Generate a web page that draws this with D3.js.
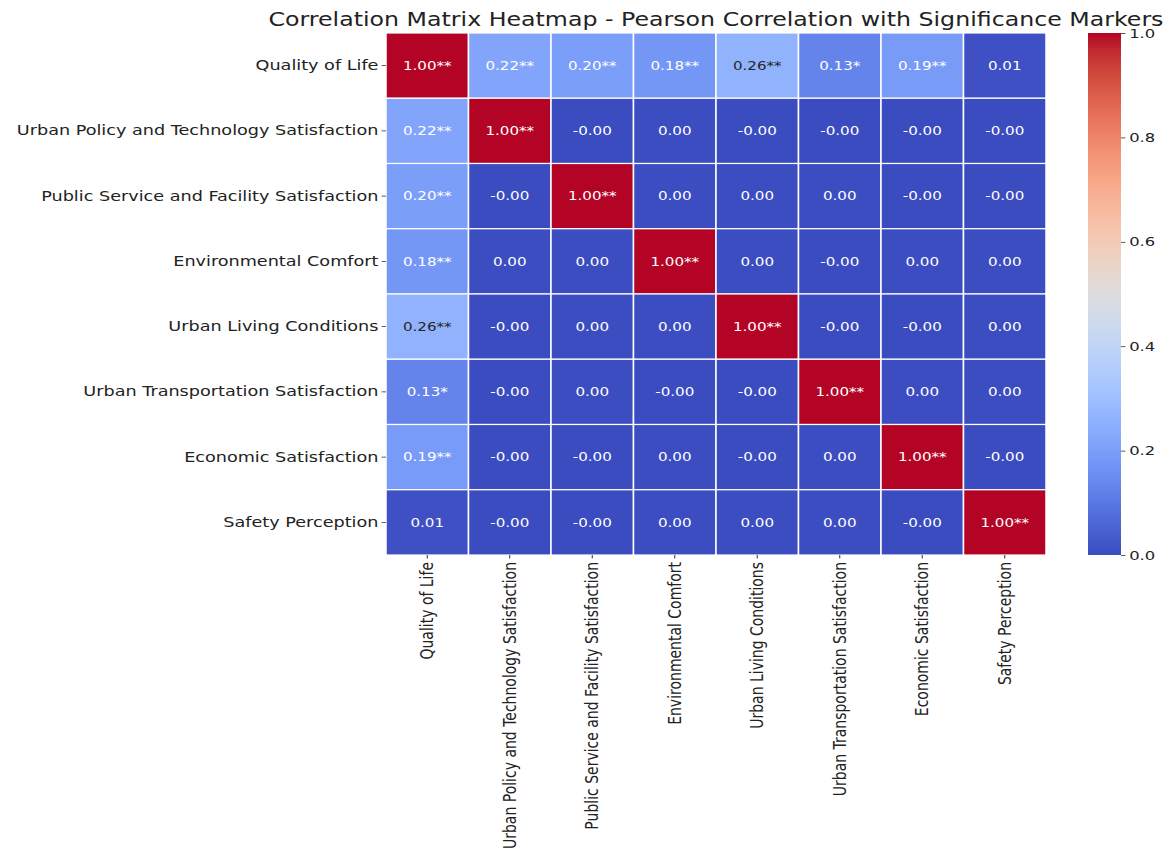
<!DOCTYPE html>
<html>
<head>
<meta charset="utf-8">
<script src="https://cdn.jsdelivr.net/npm/d3@7"></script>
<style>
  body { margin: 0; background: #fff; }
  text { font-family: "DejaVu Sans", sans-serif; }
</style>
</head>
<body>
<svg width="1171" height="848"></svg>
<script>
var variables = [
    "Quality of Life",
    "Urban Policy and Technology Satisfaction",
    "Public Service and Facility Satisfaction",
    "Environmental Comfort",
    "Urban Living Conditions",
    "Urban Transportation Satisfaction",
    "Economic Satisfaction",
    "Safety Perception"
];

// correlation values, row by row
var rowQuality   = [1.00, 0.22, 0.20, 0.18, 0.26, 0.13, 0.19, 0.01];
var rowPolicy    = [0.22, 1.00, -0.002, 0.002, -0.002, -0.002, -0.002, -0.002];
var rowService   = [0.20, -0.002, 1.00, 0.002, 0.002, 0.002, -0.002, -0.002];
var rowEnv       = [0.18, 0.002, 0.002, 1.00, 0.002, -0.002, 0.002, 0.002];
var rowLiving    = [0.26, -0.002, 0.002, 0.002, 1.00, -0.002, -0.002, 0.002];
var rowTransport = [0.13, -0.002, 0.002, -0.002, -0.002, 1.00, 0.002, 0.002];
var rowEconomic  = [0.19, -0.002, -0.002, 0.002, -0.002, 0.002, 1.00, -0.002];
var rowSafety    = [0.01, -0.002, -0.002, 0.002, 0.002, 0.002, -0.002, 1.00];

// significance markers for each cell
var starsQuality = ["**", "**", "**", "**", "**", "*", "**", ""];
var starsDiag    = "**";

var colorbarTicks = [0.0, 0.2, 0.4, 0.6, 0.8, 1.0];

var corr = [rowQuality, rowPolicy, rowService, rowEnv, rowLiving, rowTransport, rowEconomic, rowSafety];

// coolwarm colormap stops (Moreland)
var coolwarm = [
    [59,76,192],[68,90,204],[77,104,215],[87,117,225],[98,130,234],[108,142,241],
    [119,154,247],[130,165,251],[141,176,254],[152,185,255],[163,194,255],[174,201,253],
    [184,208,249],[194,213,244],[204,217,238],[213,219,230],[221,221,221],[229,216,209],
    [236,211,197],[241,204,185],[245,196,173],[247,187,160],[247,177,148],[247,166,135],
    [244,154,123],[241,141,111],[236,127,99],[229,112,88],[222,96,77],[213,80,66],
    [203,62,56],[192,40,47],[180,4,38]
].map(function(c) { return d3.rgb(c[0], c[1], c[2]).toString(); });

var cmap = d3.scaleLinear()
    .domain(d3.range(coolwarm.length).map(function(i) { return i / (coolwarm.length - 1); }))
    .range(coolwarm)
    .interpolate(d3.interpolateRgb)
    .clamp(true);

var color = d3.scaleLinear().domain([0, 1]).range([0, 1]).clamp(true);

function fill(v) { return cmap(color(v)); }

function textColor(c) {
    var rgb = d3.rgb(c);
    var lin = [rgb.r, rgb.g, rgb.b].map(function(x) {
        x = x / 255;
        return x <= 0.03928 ? x / 12.92 : Math.pow((x + 0.055) / 1.055, 2.4);
    });
    var lum = 0.2126 * lin[0] + 0.7152 * lin[1] + 0.0722 * lin[2];
    return lum > 0.408 ? "#262626" : "#ffffff";
}

function marker(i, j) {
    if (i === j) return starsDiag;
    if (i === 0) return starsQuality[j];
    if (j === 0) return starsQuality[i];
    return "";
}

// the reference is stretched horizontally, so draw in a scaled group
var sx = 1.26;
var svg = d3.select("svg");
svg.append("rect").attr("width", 1171).attr("height", 848).attr("fill", "#fff");

var g = svg.append("g").attr("transform", "scale(" + sx + ",1)");

var hmLeft = 386 / sx, hmRight = 1046 / sx, hmTop = 33, hmBottom = 555;

var x = d3.scaleBand().domain(variables).range([hmLeft, hmRight]);
var y = d3.scaleBand().domain(variables).range([hmTop, hmBottom]);

var cells = [];
corr.forEach(function(row, i) {
    row.forEach(function(v, j) {
        cells.push({ row: variables[i], col: variables[j], v: v, stars: marker(i, j) });
    });
});

g.append("g").selectAll("rect")
    .data(cells)
  .enter().append("rect")
    .attr("x", function(d) { return x(d.col); })
    .attr("y", function(d) { return y(d.row); })
    .attr("width", x.bandwidth())
    .attr("height", y.bandwidth())
    .attr("fill", function(d) { return fill(d.v); })
    .attr("stroke", "#fff")
    .attr("stroke-width", 1.2);

g.append("g").selectAll("text")
    .data(cells)
  .enter().append("text")
    .attr("x", function(d) { return x(d.col) + x.bandwidth() / 2; })
    .attr("y", function(d) { return y(d.row) + y.bandwidth() / 2; })
    .attr("dy", "0.35em")
    .attr("text-anchor", "middle")
    .attr("font-size", 12)
    .attr("fill", function(d) { return textColor(fill(d.v)); })
    .text(function(d) { return d.v.toFixed(2) + d.stars; });

// y axis
var yAxis = g.append("g")
    .attr("transform", "translate(" + hmLeft + ",0)")
    .call(d3.axisLeft(y).tickSize(3.5).tickPadding(2.5));
yAxis.select(".domain").remove();
yAxis.selectAll("line").attr("stroke", "#333").attr("stroke-width", 0.8);
yAxis.selectAll("text").attr("font-size", 14).attr("fill", "#222")
    .style("font-family", "DejaVu Sans");

// x axis
var xAxis = g.append("g")
    .attr("transform", "translate(0," + hmBottom + ")")
    .call(d3.axisBottom(x).tickSize(3.5).tickPadding(2.5));
xAxis.select(".domain").remove();
xAxis.selectAll("line").attr("stroke", "#333").attr("stroke-width", 0.8);
xAxis.selectAll("text")
    .attr("font-size", 14).attr("fill", "#222")
    .style("font-family", "DejaVu Sans")
    .attr("transform", "rotate(-90)")
    .attr("x", -7)
    .attr("y", 0)
    .attr("dy", "0.35em")
    .attr("text-anchor", "end");

// colorbar
var cbLeft = 1088 / sx, cbRight = 1121 / sx;
var grad = g.append("defs").append("linearGradient")
    .attr("id", "cbgrad")
    .attr("x1", 0).attr("y1", 1).attr("x2", 0).attr("y2", 0);
grad.selectAll("stop")
    .data(coolwarm)
  .enter().append("stop")
    .attr("offset", function(d, i) { return i / (coolwarm.length - 1); })
    .attr("stop-color", function(d) { return d; });

var cbScale = d3.scaleLinear().domain([0, 1]).range([hmBottom, hmTop]);

g.append("rect")
    .attr("x", cbLeft)
    .attr("y", hmTop)
    .attr("width", cbRight - cbLeft)
    .attr("height", hmBottom - hmTop)
    .attr("fill", "url(#cbgrad)");

var cbAxis = g.append("g")
    .attr("transform", "translate(" + cbRight + ",0)")
    .call(d3.axisRight(cbScale).tickValues(colorbarTicks).tickFormat(d3.format(".1f")).tickSize(3.5).tickPadding(3));
cbAxis.select(".domain").remove();
cbAxis.selectAll("line").attr("stroke", "#333").attr("stroke-width", 0.8);
cbAxis.selectAll("text").attr("font-size", 13).attr("fill", "#222")
    .style("font-family", "DejaVu Sans");

// title
g.append("text")
    .attr("x", (hmLeft + hmRight) / 2)
    .attr("y", 26)
    .attr("text-anchor", "middle")
    .attr("font-size", 18.8)
    .attr("fill", "#222")
    .text("Correlation Matrix Heatmap - Pearson Correlation with Significance Markers");
</script>
</body>
</html>
